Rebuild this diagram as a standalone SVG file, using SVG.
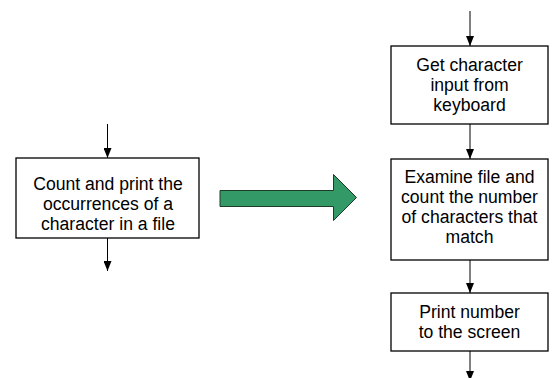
<svg xmlns="http://www.w3.org/2000/svg" width="557" height="378" viewBox="0 0 557 378">
  <style>
    .box { fill: #ffffff; stroke: #000000; stroke-width: 1.3; }
    .label { font-family: "Liberation Sans", Arial, sans-serif; font-size: 17.6px; fill: #000000; text-anchor: middle; }
    .flow { stroke: #000000; stroke-width: 1; fill: none; marker-end: url(#head); }
  </style>
  <defs>
    <marker id="head" viewBox="0 0 10 8" refX="10" refY="4" markerWidth="10" markerHeight="8" markerUnits="userSpaceOnUse" orient="auto">
      <path d="M0,0 L10,4 L0,8 Z" fill="#000000"/>
    </marker>
  </defs>

  <rect width="557" height="378" fill="#ffffff"/>

  <g id="connectors">
    <line class="flow" x1="107.5" y1="124" x2="107.5" y2="158"/>
    <line class="flow" x1="107.5" y1="238" x2="107.5" y2="271"/>
    <line class="flow" x1="470" y1="11" x2="470" y2="46"/>
    <line class="flow" x1="470" y1="124" x2="470" y2="159"/>
    <line class="flow" x1="470" y1="260" x2="470" y2="293"/>
    <line class="flow" x1="470" y1="351" x2="470" y2="381"/>
  </g>

  <g id="overall-task">
    <rect class="box" x="16" y="158" width="183" height="80"/>
    <text class="label" x="108" y="189.5">Count and print the</text>
    <text class="label" x="108" y="209.5">occurrences of a</text>
    <text class="label" x="108" y="229.5">character in a file</text>
  </g>

  <g id="refine-arrow">
    <path d="M220,190.5 L333.5,190.5 L333.5,174.5 L356.5,197.5 L333.5,220.5 L333.5,206.5 L220,206.5 Z" fill="#339966" stroke="#1e3b28" stroke-width="1"/>
  </g>

  <g id="get-input">
    <rect class="box" x="391" y="46" width="157" height="78"/>
    <text class="label" x="469.5" y="70.5">Get character</text>
    <text class="label" x="469.5" y="90.5">input from</text>
    <text class="label" x="469.5" y="110.5">keyboard</text>
  </g>

  <g id="examine-file">
    <rect class="box" x="391" y="159" width="157" height="101"/>
    <text class="label" x="469.5" y="182.5">Examine file and</text>
    <text class="label" x="469.5" y="202.5">count the number</text>
    <text class="label" x="469.5" y="222.5">of characters that</text>
    <text class="label" x="469.5" y="242.5">match</text>
  </g>

  <g id="print-result">
    <rect class="box" x="391" y="293" width="157" height="58"/>
    <text class="label" x="469.5" y="318">Print number</text>
    <text class="label" x="469.5" y="338">to the screen</text>
  </g>
</svg>
